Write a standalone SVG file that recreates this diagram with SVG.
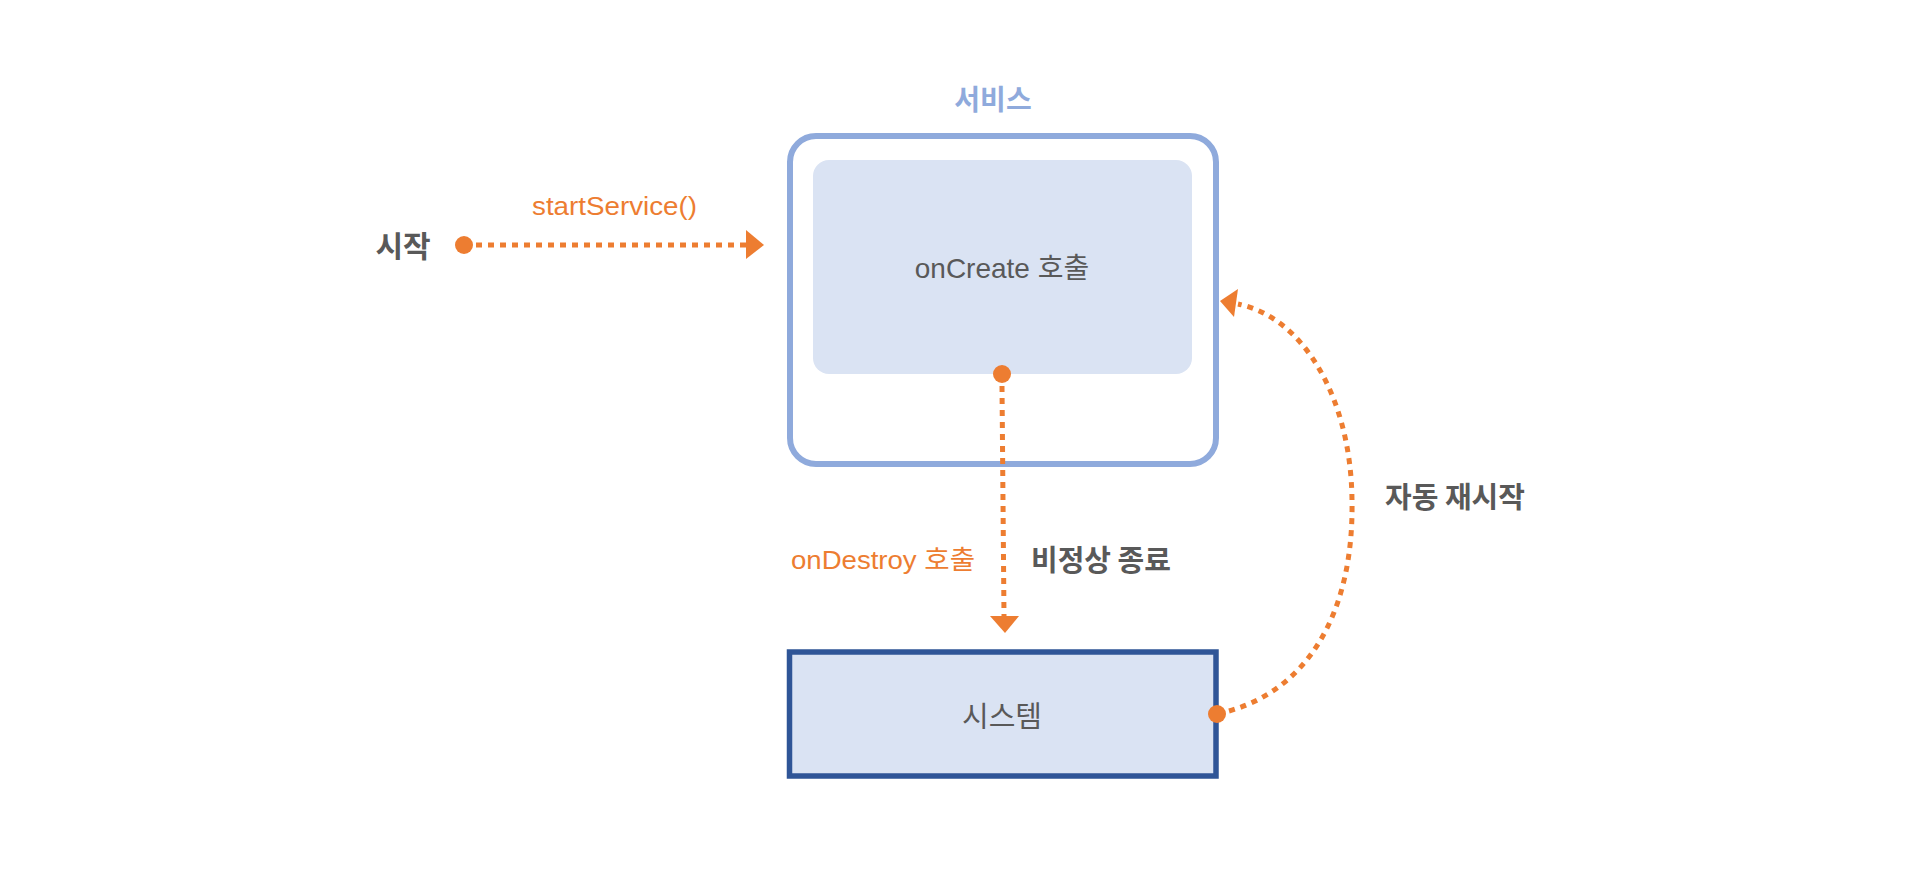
<svg xmlns="http://www.w3.org/2000/svg" width="1920" height="878" viewBox="0 0 1920 878">
  <style>
    .lbl { font-family: "Liberation Sans", "Noto Sans CJK KR", sans-serif; fill: #595959; }
    .kr { font-family: "Noto Sans CJK KR", "Liberation Sans", sans-serif; }
    .orange { fill: #ED7D31; }
    .dash { fill: none; stroke: #ED7D31; stroke-width: 5; stroke-dasharray: 6 6; }
    .dot { fill: #ED7D31; }
    .head { fill: #ED7D31; }
  </style>
  <rect width="1920" height="878" fill="#FFFFFF"/>

  <g id="service">
    <rect x="790" y="136" width="426" height="328" rx="26" ry="26" fill="#FFFFFF" stroke="#8FAADC" stroke-width="6"/>
    <text class="lbl kr" x="993" y="110" font-size="28" font-weight="bold" text-anchor="middle" fill="#8FAADC" style="fill:#8FAADC">서비스</text>
  </g>

  <g id="oncreate">
    <rect x="813" y="160" width="379" height="214" rx="16" ry="16" fill="#DAE3F3"/>
    <text class="lbl" x="1002" y="278" font-size="28" text-anchor="middle">onCreate 호출</text>
  </g>

  <g id="system">
    <rect x="789.5" y="652" width="426.5" height="124" fill="#DAE3F3" stroke="#2F5597" stroke-width="5.5"/>
    <text class="lbl kr" x="1002" y="727" font-size="29" text-anchor="middle">시스템</text>
  </g>

  <g id="start">
    <text class="lbl kr" x="403" y="257" font-size="30" font-weight="bold" text-anchor="middle">시작</text>
  </g>

  <g id="connectors">
    <!-- start -> service -->
    <circle class="dot" cx="464" cy="245" r="9"/>
    <line class="dash" x1="476" y1="245" x2="746" y2="245"/>
    <polygon class="head" points="746,230 764,245 746,259"/>
    <text class="lbl orange" x="532" y="215" font-size="26" textLength="165" lengthAdjust="spacingAndGlyphs" style="fill:#ED7D31">startService()</text>

    <!-- onCreate -> system -->
    <circle class="dot" cx="1002" cy="374" r="9"/>
    <line class="dash" x1="1002" y1="386" x2="1004" y2="616"/>
    <polygon class="head" points="990,616 1019,616 1005,633"/>
    <text class="lbl orange" x="791" y="569" font-size="26" textLength="184" lengthAdjust="spacingAndGlyphs" style="fill:#ED7D31">onDestroy 호출</text>
    <text class="lbl kr" x="1101" y="571" font-size="29" font-weight="bold" text-anchor="middle">비정상 종료</text>

    <!-- system -> service (restart) -->
    <circle class="dot" cx="1217" cy="714" r="9"/>
    <path class="dash" d="M1229,711 C1310,688 1354,610 1352,500 C1351,400 1305,318 1238,304"/>
    <polygon class="head" points="1238,289 1220,301 1234,317"/>
    <text class="lbl kr" x="1455" y="508" font-size="29" font-weight="bold" text-anchor="middle">자동 재시작</text>
  </g>
</svg>
